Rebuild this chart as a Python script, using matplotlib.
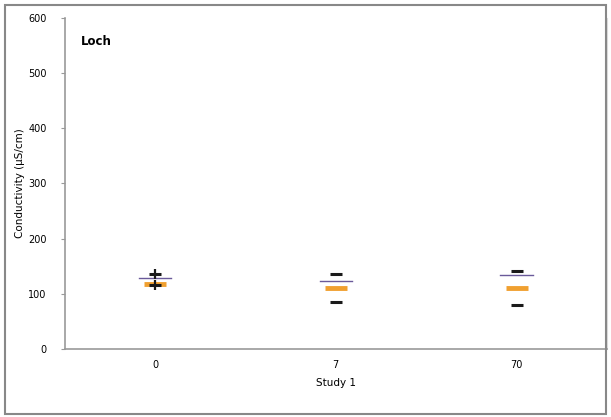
import matplotlib

matplotlib.use("Agg")

import matplotlib.pyplot as plt
from matplotlib.patches import Rectangle

categories = ["0", "7", "70"]
max_vals = [136, 136, 142]
mean_vals = [129, 124, 135]
median_vals = [118, 111, 111]
min_vals = [116, 85, 80]
y_ticks = [0, 100, 200, 300, 400, 500, 600]


def main() -> None:
    fig = plt.figure(figsize=(6.11, 4.17), dpi=100)
    ax = fig.add_axes([0.1056, 0.163, 0.888, 0.794])

    x = list(range(len(categories)))
    for xi, med in zip(x, median_vals):
        ax.plot([xi - 0.06, xi + 0.06], [med, med], color="#f0a030", linewidth=3.5,
                solid_capstyle="butt", zorder=2)
    for xi, mean in zip(x, mean_vals):
        ax.plot([xi - 0.09, xi + 0.09], [mean, mean], color="#6a5a9a", linewidth=1.0, zorder=3)
    ax.plot(x, max_vals, linestyle="none", marker="_", markersize=9, markeredgewidth=2.2,
            color="#1a1a1a", zorder=4)
    ax.plot(x, min_vals, linestyle="none", marker="_", markersize=9, markeredgewidth=2.2,
            color="#1a1a1a", zorder=4)
    # first group shows a short vertical stroke through its max/min markers
    ax.plot([x[0], x[0]], [max_vals[0], min_vals[0]], linestyle="none", marker="|",
            markersize=7, markeredgewidth=1.6, color="#1a1a1a", zorder=4)

    ax.set_xlim(-0.5, len(categories) - 0.5)
    ax.set_ylim(0, 600)
    ax.set_xticks(x)
    ax.set_xticklabels(categories, fontsize=7)
    ax.set_yticks(y_ticks)
    ax.set_yticklabels([str(v) for v in y_ticks], fontsize=7)
    ax.tick_params(axis="x", length=0, pad=8)
    ax.tick_params(axis="y", length=3, color="#999999", pad=10)
    ax.set_xlabel("Study 1", fontsize=7.5, labelpad=6)
    ax.set_ylabel("Conductivity (µS/cm)", fontsize=7.5, labelpad=2)
    ax.text(0.03, 0.93, "Loch", transform=ax.transAxes, fontsize=8.5, fontweight="bold",
            va="center", ha="left")

    for side in ("left", "bottom"):
        ax.spines[side].set_color("#999999")
        ax.spines[side].set_linewidth(1.2)
    ax.spines["right"].set_color("#dddddd")
    ax.spines["top"].set_visible(False)

    fig.patches.append(Rectangle((0.008, 0.008), 0.984, 0.98, transform=fig.transFigure,
                                 fill=False, edgecolor="#888888", linewidth=1.5))
    fig.savefig("out.png", dpi=100)
    plt.close(fig)


if __name__ == "__main__":
    main()
